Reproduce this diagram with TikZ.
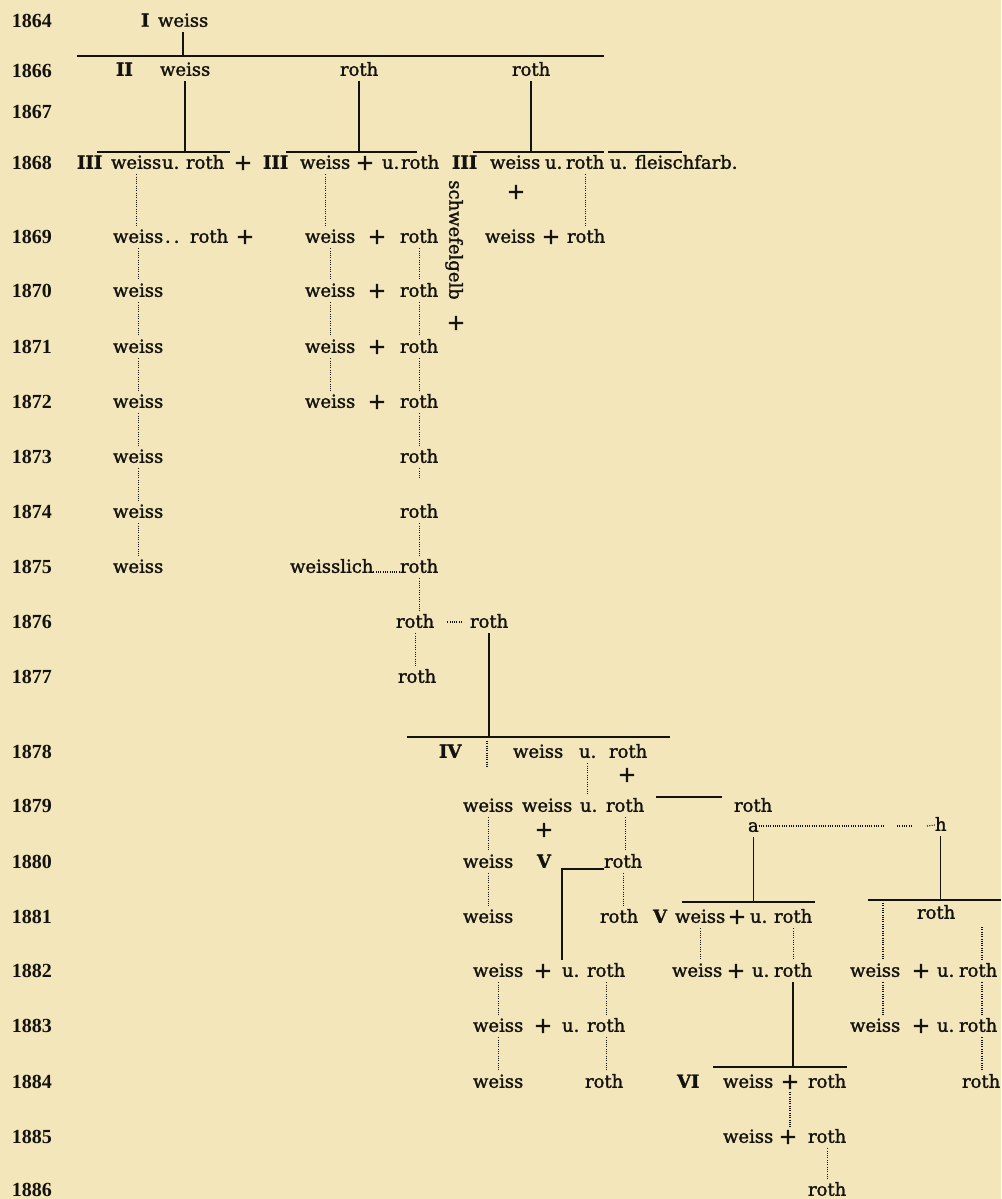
\documentclass[tikz,border=0pt]{standalone}
\usepackage{fontspec}
\setmainfont{DejaVu Serif}[FakeBold=1.5]
\newfontfamily\yearfont{Liberation Serif}
\usepackage{tikz}
\usetikzlibrary{positioning, calc}
\definecolor{paper}{RGB}{242,230,186}
\definecolor{ink}{RGB}{20,18,15}

\begin{document}
\begin{tikzpicture}[x=1pt, y=-1pt,
  txt/.style={inner sep=0pt, outer xsep=0pt, outer ysep=3pt, anchor=west,
    text height=14pt, text depth=2.5pt, text=ink, font=\fontsize{18}{20}\selectfont},
  gen/.style={txt, font=\fontsize{18}{20}\selectfont\bfseries},
  year/.style={inner sep=0pt, text=ink, font=\yearfont\bfseries\fontsize{20}{22}\selectfont},
  pls/.style={inner sep=0pt, outer sep=3pt, text=ink, font=\fontsize{22}{22}\selectfont},
  bar/.style={draw=ink, line width=1.3pt},
  dotl/.style={draw=ink, line width=1.1pt, dash pattern=on 1pt off 1.3pt}]
\useasboundingbox (0,0) rectangle (1001,1199);
\fill[paper] (0,0) rectangle (1001,1199);

% Years
\foreach \yr/\yy in {1864/21,1866/71,1867/112,1868/163,1869/237,1870/291,1871/347,
    1872/402,1873/457,1874/512,1875/567,1876/622,1877/677,1878/752,1879/806,
    1880/862,1881/917,1882/971,1883/1026,1884/1082,1885/1137,1886/1190}
  \node[year] (y\yr) at (32,\yy) {\yr};

% Generation I and II
\node[gen] (g1) at (141,21) {I};
\node[txt] (p64) at (158,21) {weiss};
\coordinate (bar66l) at (77,56);
\coordinate (bar66r) at (604,56);
\draw[bar] (bar66l) -- (bar66r);
\draw[bar] (p64.south) -- (p64.south |- bar66l);
\node[gen] (g2) at (116,70) {II};
\node[txt] (a66) at (160,70) {weiss};
\node[txt] (b66) at (340,70) {roth};
\node[txt] (c66) at (512,70) {roth};

% Generation III
\coordinate (bar68a) at (97,152);
\coordinate (bar68b) at (286,152);
\coordinate (bar68c) at (473,152);
\coordinate (bar68d) at (608,152);
\draw[bar] (bar68a) -- (230,152);
\draw[bar] (bar68b) -- (417,152);
\draw[bar] (bar68c) -- (604,152);
\draw[bar] (bar68d) -- (682,152);
\draw[bar] (a66.south) -- (a66.south |- bar68a);
\draw[bar] (b66.south) -- (b66.south |- bar68a);
\draw[bar] (c66.south) -- (c66.south |- bar68a);

\node[gen] (g3a) at (77,163) {III};
\node[txt] (aw68) at (111,163) {weiss};
\node[txt] (au68) at (162,163) {u.};
\node[txt] (ar68) at (186,163) {roth};
\node[pls] (ap68) at (243,163) {+};
\node[gen] (g3b) at (263,163) {III};
\node[txt] (bw68) at (300,163) {weiss};
\node[pls] (bp68) at (365,163) {+};
\node[txt] (bu68) at (382,163) {u.};
\node[txt] (br68) at (401,163) {roth};
\node[gen] (g3c) at (452,163) {III};
\node[txt] (cw68) at (490,163) {weiss};
\node[txt] (cu68) at (545,163) {u.};
\node[txt] (cr68) at (566,163) {roth};
\node[txt] (cf68) at (610,163) {u. fleischfarb.};
\node[pls] (cp68) at (516,192) {+};

% 1869
\node[txt] (aw69) at (113,237) {weiss};
\node[txt] (ad69) at (165,237) {.\,.};
\node[txt] (ar69) at (190,237) {roth};
\node[pls] (ap69) at (245,237) {+};
\node[txt, anchor=center, rotate=-90] (sg) at (455,240) {schwefelgelb};
\node[pls] (sgp) at (456,323) {+};
\node[txt] (cw69) at (485,237) {weiss};
\node[pls] (cp69) at (551,237) {+};
\node[txt] (cr69) at (567,237) {roth};
\draw[dotl] (cr68.south) -- (cr68.south |- cr69.north);

% weiss + roth, 1869 - 1872
\foreach \yr/\yy in {69/237,70/291,71/347,72/402} {
  \node[txt] (bw\yr) at (305,\yy) {weiss};
  \node[pls] (bp\yr) at (377,\yy) {+};
  \node[txt] (br\yr) at (400,\yy) {roth};
}
\foreach \yr/\yy in {70/291,71/347,72/402,73/457,74/512,75/567}
  \node[txt] (aw\yr) at (113,\yy) {weiss};
\node[txt] (br73) at (400,457) {roth};
\node[txt] (br74) at (400,512) {roth};
\node[txt] (bw75) at (290,567) {weisslich};
\node[txt] (br75) at (400,567) {roth};
\node[txt] (br76) at (396,622) {roth};
\node[txt] (dr76) at (470,622) {roth};
\node[txt] (br77) at (398,677) {roth};

\foreach \i/\j in {68/69,69/70,70/71,71/72,72/73,73/74,74/75}
  \draw[dotl] (aw\i.south) -- (aw\i.south |- aw\j.north);
\foreach \i/\j in {68/69,69/70,70/71,71/72}
  \draw[dotl] (bw\i.south) -- (bw\i.south |- bw\j.north);
\foreach \i/\j in {69/70,70/71,71/72,72/73,74/75,75/76,76/77}
  \draw[dotl] (br\i.south) -- (br\i.south |- br\j.north);
\draw[dotl, shorten >=22pt] (br73.south) -- (br73.south |- br74.north);
\draw[dotl] ([yshift=-5pt]bw75.east) -- ([yshift=-5pt]br75.west);
\draw[dotl, shorten <=13pt, shorten >=8pt] (br76.east) -- (dr76.west);

% Generation IV
\coordinate (bar78l) at (407,737);
\coordinate (bar78r) at (670,737);
\draw[bar] (bar78l) -- (bar78r);
\draw[bar] (dr76.south) -- (dr76.south |- bar78l);
\node[gen] (g4) at (439,752) {IV};
\node[txt] (ew78) at (513,752) {weiss};
\node[txt] (eu78) at (579,752) {u.};
\node[txt] (er78) at (609,752) {roth};
\node[pls] (ep78) at (627,775) {+};

\node[txt] (ew79) at (463,806) {weiss};
\node[txt] (fw79) at (522,806) {weiss};
\node[txt] (fu79) at (580,806) {u.};
\node[txt] (fr79) at (606,806) {roth};
\node[txt] (gr79) at (734,806) {roth};
\node[pls] (fp79) at (544,830) {+};
\draw[bar, line width=1.1pt, shorten <=12pt, shorten >=12pt]
  ([yshift=9pt]fr79.east) -- ([yshift=9pt]gr79.west);
\coordinate (iv) at (487,741);
\draw[dotl, shorten >=27pt] (iv) -- (iv |- ew79.north);
\draw[dotl] (eu78.south) -- (eu78.south |- fu79.north);

\node[txt] (ew80) at (463,862) {weiss};
\node[gen] (g5a) at (537,862) {V};
\node[txt] (fr80) at (604,862) {roth};
\node[txt] (ew81) at (463,917) {weiss};
\node[txt] (fr81) at (600,917) {roth};
\draw[dotl] (ew79.south) -- (ew79.south |- ew80.north);
\draw[dotl] (ew80.south) -- (ew80.south |- ew81.north);
\draw[dotl] (fr79.south) -- (fr79.south |- fr80.north);
\draw[dotl] (fr80.south) -- (fr80.south |- fr81.north);

% a and h
\node[txt] (na) at (748,826) {a};
\node[txt] (nh) at (935,825) {h};
\coordinate (ah1) at (883,826);
\coordinate (ah2) at (897,826);
\coordinate (ah3) at (912,826);
\coordinate (ah4) at (927,826);
\draw[dotl] (na.east) -- (ah1);
\draw[dotl] (ah2) -- (ah3);
\draw[dotl] (ah4) -- (nh.west);

% Generation V
\node[gen] (g5b) at (653,917) {V};
\node[txt] (iw81) at (675,917) {weiss};
\node[pls] (ip81) at (737,917) {+};
\node[txt] (iu81) at (750,917) {u.};
\node[txt] (ir81) at (774,917) {roth};
\coordinate (bar81al) at (682,902);
\coordinate (bar81ar) at (815,902);
\coordinate (bar81hl) at (868,900);
\coordinate (bar81hr) at (1001,900);
\draw[bar] (bar81al) -- (bar81ar);
\draw[bar] (bar81hl) -- (bar81hr);
\draw[bar] (na.south) -- (na.south |- bar81al);
\draw[bar] (nh.south) -- (nh.south |- bar81hl);
\node[txt] (jr81) at (917,913) {roth};

% 1882 - 1884
\foreach \yr/\yy in {82/971,83/1026} {
  \node[txt] (hw\yr) at (473,\yy) {weiss};
  \node[pls] (hp\yr) at (543,\yy) {+};
  \node[txt] (hu\yr) at (562,\yy) {u.};
  \node[txt] (hr\yr) at (587,\yy) {roth};
  \node[txt] (kw\yr) at (850,\yy) {weiss};
  \node[pls] (kp\yr) at (921,\yy) {+};
  \node[txt] (ku\yr) at (937,\yy) {u.};
  \node[txt] (kr\yr) at (959,\yy) {roth};
}
\node[txt] (iw82) at (672,971) {weiss};
\node[pls] (ip82) at (736,971) {+};
\node[txt] (iu82) at (752,971) {u.};
\node[txt] (ir82) at (774,971) {roth};
\node[txt] (hw84) at (473,1082) {weiss};
\node[txt] (hr84) at (585,1082) {roth};
\node[txt] (kr84) at (962,1082) {roth};

\coordinate (v5) at (562,869);
\draw[bar] (fr80.west |- v5) -- (v5) -- (v5 |- hu82.north);
\draw[dotl] (iw81.south) -- (iw81.south |- iw82.north);
\draw[dotl] (ir81.south) -- (ir81.south |- ir82.north);
\coordinate (hl) at (883,903);
\coordinate (hr) at (982,927);
\draw[dotl] (hl) -- (hl |- kw82.north);
\draw[dotl] (hr) -- (hr |- kr82.north);
\draw[dotl] (hl |- kw82.south) -- (hl |- kw83.north);
\draw[dotl] (hr |- kr82.south) -- (hr |- kr83.north);
\draw[dotl] (hr |- kr83.south) -- (hr |- kr84.north);
\draw[dotl] (hw82.south) -- (hw82.south |- hw83.north);
\draw[dotl] (hw83.south) -- (hw83.south |- hw84.north);
\draw[dotl] (hr82.south) -- (hr82.south |- hr83.north);
\draw[dotl] (hr83.south) -- (hr83.south |- hr84.north);

% Generation VI
\coordinate (bar84l) at (713,1067);
\coordinate (bar84r) at (847,1067);
\draw[bar] (bar84l) -- (bar84r);
\draw[bar] (ir82.south) -- (ir82.south |- bar84l);
\node[gen] (g6) at (677,1082) {VI};
\node[txt] (mw84) at (723,1082) {weiss};
\node[pls] (mp84) at (790,1082) {+};
\node[txt] (mr84) at (808,1082) {roth};
\node[txt] (mw85) at (723,1137) {weiss};
\node[pls] (mp85) at (788,1137) {+};
\node[txt] (mr85) at (808,1137) {roth};
\node[txt] (mr86) at (808,1190) {roth};
\draw[dotl] (mp84.south) -- (mp84.south |- mp85.north);
\draw[dotl] (mr85.south) -- (mr85.south |- mr86.north);
\end{tikzpicture}
\end{document}
